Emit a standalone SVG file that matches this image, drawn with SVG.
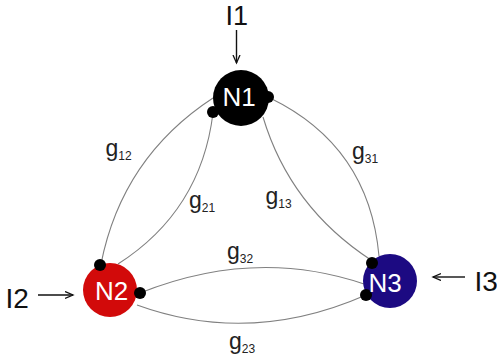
<svg xmlns="http://www.w3.org/2000/svg" width="497" height="361" viewBox="0 0 497 361">
  <style>
    .edge { fill: none; stroke: #808080; stroke-width: 1.1; }
    .arrow { fill: none; stroke: #111; stroke-width: 1.4; marker-end: url(#head); }
    .dot { fill: #000; }
    .ntext { font-family: "Liberation Sans", Arial, sans-serif; font-size: 26px; fill: #fff; text-anchor: middle; }
    .itext { font-family: "Liberation Sans", Arial, sans-serif; font-size: 28px; fill: #111; }
    .glabel { font-family: "Liberation Sans", Arial, sans-serif; font-size: 23px; fill: #222; }
    .sub { font-size: 12px; }
  </style>
  <defs>
    <marker id="head" markerUnits="userSpaceOnUse" markerWidth="10" markerHeight="10" refX="8" refY="4" orient="auto">
      <path d="M0,0.5 L8,4 L0,7.5" fill="none" stroke="#111" stroke-width="1.3"/>
    </marker>
  </defs>
  <rect width="497" height="361" fill="#fff"/>

  <g id="connectors">
    <path id="e12" class="edge" d="M213,98 Q122,157.5 101,264"/>
    <path id="e21" class="edge" d="M213,113 Q201,211 118,264"/>
    <path id="e13" class="edge" d="M263,117 Q290,207 371,260"/>
    <path id="e31" class="edge" d="M270,98 Q369,146 379,256"/>
    <path id="e32" class="edge" d="M140,293 Q255,247 364,284"/>
    <path id="e23" class="edge" d="M137,305 Q250,346 366,295"/>
    <path id="a1" class="arrow" d="M236.5,30 V63"/>
    <path id="a2" class="arrow" d="M38,295 H73"/>
    <path id="a3" class="arrow" d="M465,277 H433"/>
  </g>

  <g id="labels">
    <text class="glabel" x="105.5" y="156">g<tspan class="sub" dy="3.5">12</tspan></text>
    <text class="glabel" x="189" y="208">g<tspan class="sub" dy="3.5">21</tspan></text>
    <text class="glabel" x="265.5" y="204">g<tspan class="sub" dy="3.5">13</tspan></text>
    <text class="glabel" x="352" y="159">g<tspan class="sub" dy="3.5">31</tspan></text>
    <text class="glabel" x="227" y="259">g<tspan class="sub" dy="3.5">32</tspan></text>
    <text class="glabel" x="229" y="349">g<tspan class="sub" dy="3.5">23</tspan></text>
  </g>

  <g id="I1"><text class="itext" x="225.5" y="25" style="font-size:27px">I1</text></g>
  <g id="I2"><text class="itext" x="5.5" y="308">I2</text></g>
  <g id="I3"><text class="itext" x="474.5" y="291">I3</text></g>

  <g id="N1">
    <circle cx="241" cy="98" r="28" fill="#000"/>
    <circle class="dot" cx="268" cy="97" r="6"/>
    <circle class="dot" cx="213" cy="112" r="6"/>
    <text class="ntext" x="239" y="106">N1</text>
  </g>
  <g id="N2">
    <circle cx="110" cy="290" r="27" fill="#d20a0a"/>
    <circle class="dot" cx="100" cy="265" r="6"/>
    <circle class="dot" cx="140" cy="293" r="6"/>
    <text class="ntext" x="111.5" y="300">N2</text>
  </g>
  <g id="N3">
    <circle cx="390" cy="281" r="27" fill="#1c0a82"/>
    <circle class="dot" cx="372" cy="263" r="6"/>
    <circle class="dot" cx="366" cy="295" r="6"/>
    <text class="ntext" x="385" y="291.5">N3</text>
  </g>
</svg>
